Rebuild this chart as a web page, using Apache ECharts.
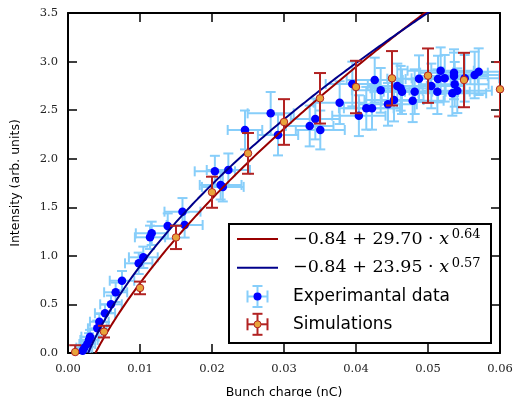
<!DOCTYPE html>
<html><head><meta charset="utf-8">
<script src="https://cdn.jsdelivr.net/npm/echarts@6/dist/echarts.min.js"></script>
<style>html,body{margin:0;padding:0;background:#fff}#c{width:516px;height:397px}</style>
</head><body><div id="c"></div>
<script>
// ---- Data ----
const xTicks = [0, 0.01, 0.02, 0.03, 0.04, 0.05, 0.06];
const yTicks = [0, 0.5, 1.0, 1.5, 2.0, 2.5, 3.0, 3.5];

const expX = [0.00204,0.00226,0.00268,0.00292,0.00306,0.00407,0.00435,0.00514,0.00597,0.00662,
  0.00750,0.00982,0.01046,0.01139,0.01162,0.01385,0.01590,0.01620,0.02040,0.02120,
  0.02150,0.02227,0.02458,0.02815,0.02917,0.03357,0.03435,0.03504,0.03773,0.03949,
  0.04040,0.04143,0.04222,0.04260,0.04343,0.04444,0.04528,0.04574,0.04620,0.04639,
  0.04787,0.04815,0.04875,0.05046,0.05130,0.05139,0.05176,0.05232,0.05338,0.05361,
  0.05361,0.05371,0.05407,0.05510,0.05648,0.05704];
const expY = [0.024,0.055,0.093,0.134,0.168,0.254,0.322,0.409,0.501,0.625,
  0.744,0.923,0.985,1.191,1.232,1.307,1.455,1.318,1.870,1.730,
  1.710,1.884,2.296,2.467,2.244,2.337,2.409,2.296,2.577,2.769,
  2.443,2.519,2.519,2.810,2.704,2.560,2.604,2.749,2.725,2.690,
  2.597,2.690,2.824,2.749,2.690,2.820,2.906,2.828,2.673,2.886,
  2.852,2.766,2.700,2.828,2.862,2.896];
const expXErr = [0.0010,0.0011,0.0011,0.0012,0.0012,0.0013,0.0013,0.0014,0.0015,0.0016,
  0.0017,0.0019,0.0020,0.0021,0.0022,0.0023,0.0025,0.0025,0.0028,0.0029,
  0.0029,0.0030,0.0024,0.0032,0.0028,0.0033,0.0034,0.0034,0.0036,0.0037,
  0.0037,0.0038,0.0039,0.0039,0.0040,0.0040,0.0041,0.0041,0.0042,0.0042,
  0.0043,0.0043,0.0044,0.0045,0.0045,0.0045,0.0046,0.0046,0.0047,0.0047,
  0.0047,0.0047,0.0048,0.0048,0.0049,0.0049];
const expYErr = [0.06,0.06,0.07,0.07,0.07,0.08,0.08,0.09,0.09,0.10,
  0.10,0.11,0.11,0.12,0.12,0.13,0.14,0.13,0.16,0.15,
  0.15,0.17,0.20,0.22,0.21,0.21,0.21,0.20,0.22,0.23,
  0.21,0.22,0.22,0.23,0.23,0.22,0.22,0.23,0.23,0.23,
  0.22,0.23,0.24,0.23,0.23,0.24,0.24,0.24,0.23,0.24,
  0.24,0.23,0.23,0.24,0.24,0.24];

const simX = [0.001,0.005,0.010,0.015,0.020,0.025,0.030,0.035,0.040,0.045,0.050,0.055,0.060];
const simY = [0.01,0.22,0.67,1.19,1.655,2.055,2.378,2.622,2.738,2.828,2.855,2.810,2.715];
const simYErr = [0.07,0.06,0.065,0.12,0.16,0.21,0.235,0.26,0.27,0.28,0.28,0.28,0.28];

// Fit curves: a + b * x^p (as given in the legend)
const fitA = [-0.84, -0.84];
const fitB = [29.70, 23.95];
const fitP = [0.64, 0.57];
const fitLabelB = ['29.70', '23.95'];
const fitLabelP = ['0.64', '0.57'];
const expName = 'Experimantal data';
const simName = 'Simulations';

// ---- Styles ----
const RED = '#990000', NAVY = '#00008B', LIGHTBLUE = '#87CEFA', BLUE = '#0000FF';
const SIMBAR = '#B22222', SIMFILL = '#E8A33A';
const SERIF = 'DejaVu Serif', SANS = 'DejaVu Sans';

function fitData(i) {
  const x0 = Math.pow(-fitA[i] / fitB[i], 1 / fitP[i]);
  const pts = [];
  const n = 300;
  for (let k = 0; k <= n; k++) {
    const x = x0 + (0.06 - x0) * k / n;
    pts.push([x, fitA[i] + fitB[i] * Math.pow(x, fitP[i])]);
  }
  return pts;
}

function errRender(color, capH, capV, lw) {
  return function (params, api) {
    const x = api.value(0), y = api.value(1), dx = api.value(2), dy = api.value(3);
    const st = { stroke: color, lineWidth: lw };
    const ch = [];
    const t = api.coord([x, y + dy]), b = api.coord([x, y - dy]);
    ch.push({ type: 'line', shape: { x1: t[0], y1: t[1], x2: b[0], y2: b[1] }, style: st });
    ch.push({ type: 'line', shape: { x1: t[0] - capV, y1: t[1], x2: t[0] + capV, y2: t[1] }, style: st });
    ch.push({ type: 'line', shape: { x1: b[0] - capV, y1: b[1], x2: b[0] + capV, y2: b[1] }, style: st });
    if (dx > 0) {
      const l = api.coord([x - dx, y]), r = api.coord([x + dx, y]);
      ch.push({ type: 'line', shape: { x1: l[0], y1: l[1], x2: r[0], y2: r[1] }, style: st });
      ch.push({ type: 'line', shape: { x1: l[0], y1: l[1] - capH, x2: l[0], y2: l[1] + capH }, style: st });
      ch.push({ type: 'line', shape: { x1: r[0], y1: r[1] - capH, x2: r[0], y2: r[1] + capH }, style: st });
    }
    return { type: 'group', children: ch };
  };
}

const expErrData = expX.map((x, i) => [x, expY[i], expXErr[i], expYErr[i]]);
const expPts = expX.map((x, i) => [x, expY[i]]);
const simErrData = simX.map((x, i) => [x, simY[i], 0, simYErr[i]]);
const simPts = simX.map((x, i) => [x, simY[i]]);

const axisLineStyle = { color: '#000', width: 2 };
const tickStyle = { show: true, inside: true, length: 9, lineStyle: { color: '#000', width: 1.5 } };

// Legend (drawn as graphic)
const LX = 229, LY = 224, LW = 262, LH = 119;
const rowY = [239, 267.7, 296.5, 324.3];
const iconL = 237, iconR = 278, iconC = 257.5, textX = 293;
const legendEls = [
  { type: 'rect', shape: { x: LX, y: LY, width: LW, height: LH }, style: { fill: '#fff', stroke: '#000', lineWidth: 2 } },
  { type: 'line', shape: { x1: iconL, y1: rowY[0], x2: iconR, y2: rowY[0] }, style: { stroke: RED, lineWidth: 2 } },
  { type: 'line', shape: { x1: iconL, y1: rowY[1], x2: iconR, y2: rowY[1] }, style: { stroke: NAVY, lineWidth: 2 } }
];
function legendErrIcon(cy, color) {
  const st = { stroke: color, lineWidth: 2 };
  return [
    { type: 'line', shape: { x1: iconC - 10, y1: cy, x2: iconC + 10, y2: cy }, style: st },
    { type: 'line', shape: { x1: iconC - 10, y1: cy - 6, x2: iconC - 10, y2: cy + 6 }, style: st },
    { type: 'line', shape: { x1: iconC + 10, y1: cy - 6, x2: iconC + 10, y2: cy + 6 }, style: st },
    { type: 'line', shape: { x1: iconC, y1: cy - 10.5, x2: iconC, y2: cy + 10.5 }, style: st },
    { type: 'line', shape: { x1: iconC - 5, y1: cy - 10.5, x2: iconC + 5, y2: cy - 10.5 }, style: st },
    { type: 'line', shape: { x1: iconC - 5, y1: cy + 10.5, x2: iconC + 5, y2: cy + 10.5 }, style: st }
  ];
}
legendEls.push(...legendErrIcon(rowY[2], LIGHTBLUE));
legendEls.push({ type: 'circle', shape: { cx: iconC, cy: rowY[2], r: 4 }, style: { fill: BLUE } });
legendEls.push(...legendErrIcon(rowY[3], SIMBAR));
legendEls.push({ type: 'circle', shape: { cx: iconC, cy: rowY[3], r: 3.5 }, style: { fill: SIMFILL, stroke: SIMBAR, lineWidth: 1 } });
const richFormula = {
  n: { fontFamily: SERIF, fontSize: 17.5, lineHeight: 22, fill: '#000' },
  i: { fontFamily: SERIF, fontStyle: 'italic', fontSize: 17.5, lineHeight: 22, fill: '#000' },
  s: { fontFamily: SERIF, fontSize: 13, lineHeight: 12, verticalAlign: 'top', fill: '#000' }
};
for (let k = 0; k < 2; k++) {
  legendEls.push({
    type: 'text', x: textX, y: rowY[k],
    style: {
      text: '{n|\u22120.84 + ' + fitLabelB[k] + ' \u00b7 }{i|x}{s|\u2009' + fitLabelP[k] + '}',
      rich: richFormula, verticalAlign: 'middle', align: 'left'
    }
  });
}
legendEls.push({ type: 'text', x: textX, y: rowY[2], style: { text: expName, fontFamily: SANS, fontSize: 17, fill: '#000', verticalAlign: 'middle' } });
legendEls.push({ type: 'text', x: textX, y: rowY[3], style: { text: simName, fontFamily: SANS, fontSize: 17, fill: '#000', verticalAlign: 'middle' } });

const option = {
  animation: false,
  backgroundColor: '#fff',
  grid: { left: 68, right: 16, top: 13, bottom: 44, containLabel: false, outerBoundsMode: 'none' },
  xAxis: [
    {
      type: 'value', min: xTicks[0], max: xTicks[xTicks.length - 1], interval: 0.01,
      position: 'bottom',
      name: 'Bunch charge (nC)', nameLocation: 'middle', nameGap: 33,
      nameTextStyle: { fontFamily: SANS, fontSize: 12.5, color: '#000' },
      axisLine: { show: true, onZero: false, lineStyle: axisLineStyle },
      axisTick: tickStyle,
      axisLabel: { margin: 10, fontFamily: SERIF, fontSize: 11.5, color: '#222', formatter: v => v.toFixed(2) },
      splitLine: { show: false }
    },
    {
      type: 'value', min: xTicks[0], max: xTicks[xTicks.length - 1], interval: 0.01,
      position: 'top',
      axisLine: { show: true, onZero: false, lineStyle: axisLineStyle },
      axisTick: tickStyle, axisLabel: { show: false }, splitLine: { show: false }
    }
  ],
  yAxis: [
    {
      type: 'value', min: yTicks[0], max: yTicks[yTicks.length - 1], interval: 0.5,
      position: 'left',
      name: 'Intensity (arb. units)', nameLocation: 'middle', nameGap: 46, nameRotate: 90,
      nameTextStyle: { fontFamily: SANS, fontSize: 12.5, color: '#000' },
      axisLine: { show: true, onZero: false, lineStyle: axisLineStyle },
      axisTick: tickStyle,
      axisLabel: { margin: 10, fontFamily: SERIF, fontSize: 11.5, color: '#222', formatter: v => v.toFixed(1) },
      splitLine: { show: false }
    },
    {
      type: 'value', min: yTicks[0], max: yTicks[yTicks.length - 1], interval: 0.5,
      position: 'right',
      axisLine: { show: true, onZero: false, lineStyle: axisLineStyle },
      axisTick: tickStyle, axisLabel: { show: false }, splitLine: { show: false }
    }
  ],
  series: [
    {
      name: expName + ' errors', type: 'custom', xAxisIndex: 0, yAxisIndex: 0,
      renderItem: errRender(LIGHTBLUE, 5, 5, 2), data: expErrData,
      encode: { x: 0, y: 1 }, clip: true, z: 2, silent: true
    },
    {
      name: expName, type: 'scatter', xAxisIndex: 0, yAxisIndex: 0,
      data: expPts, symbol: 'circle', symbolSize: 8.5,
      itemStyle: { color: BLUE, opacity: 1 }, clip: true, z: 3, silent: true
    },
    {
      name: 'fit1', type: 'line', xAxisIndex: 0, yAxisIndex: 0, data: fitData(0),
      showSymbol: false, symbol: 'none', smooth: false, clip: true,
      lineStyle: { color: RED, width: 2 }, itemStyle: { color: RED }, z: 4, silent: true
    },
    {
      name: 'fit2', type: 'line', xAxisIndex: 0, yAxisIndex: 0, data: fitData(1),
      showSymbol: false, symbol: 'none', smooth: false, clip: true,
      lineStyle: { color: NAVY, width: 2 }, itemStyle: { color: NAVY }, z: 4, silent: true
    },
    {
      name: simName + ' errors', type: 'custom', xAxisIndex: 0, yAxisIndex: 0,
      renderItem: errRender(SIMBAR, 6, 6, 2), data: simErrData,
      encode: { x: 0, y: 1 }, clip: true, z: 5, silent: true
    },
    {
      name: simName, type: 'scatter', xAxisIndex: 0, yAxisIndex: 0,
      data: simPts, symbol: 'circle', symbolSize: 7.5,
      itemStyle: { color: SIMFILL, borderColor: SIMBAR, borderWidth: 1, opacity: 1 }, clip: true, z: 6, silent: true
    }
  ],
  graphic: { elements: legendEls.map(e => Object.assign({ z: 100 }, e)) }
};

const chart = echarts.init(document.getElementById('c'), null, { renderer: 'canvas' });
chart.setOption(option);
</script>
</body></html>
